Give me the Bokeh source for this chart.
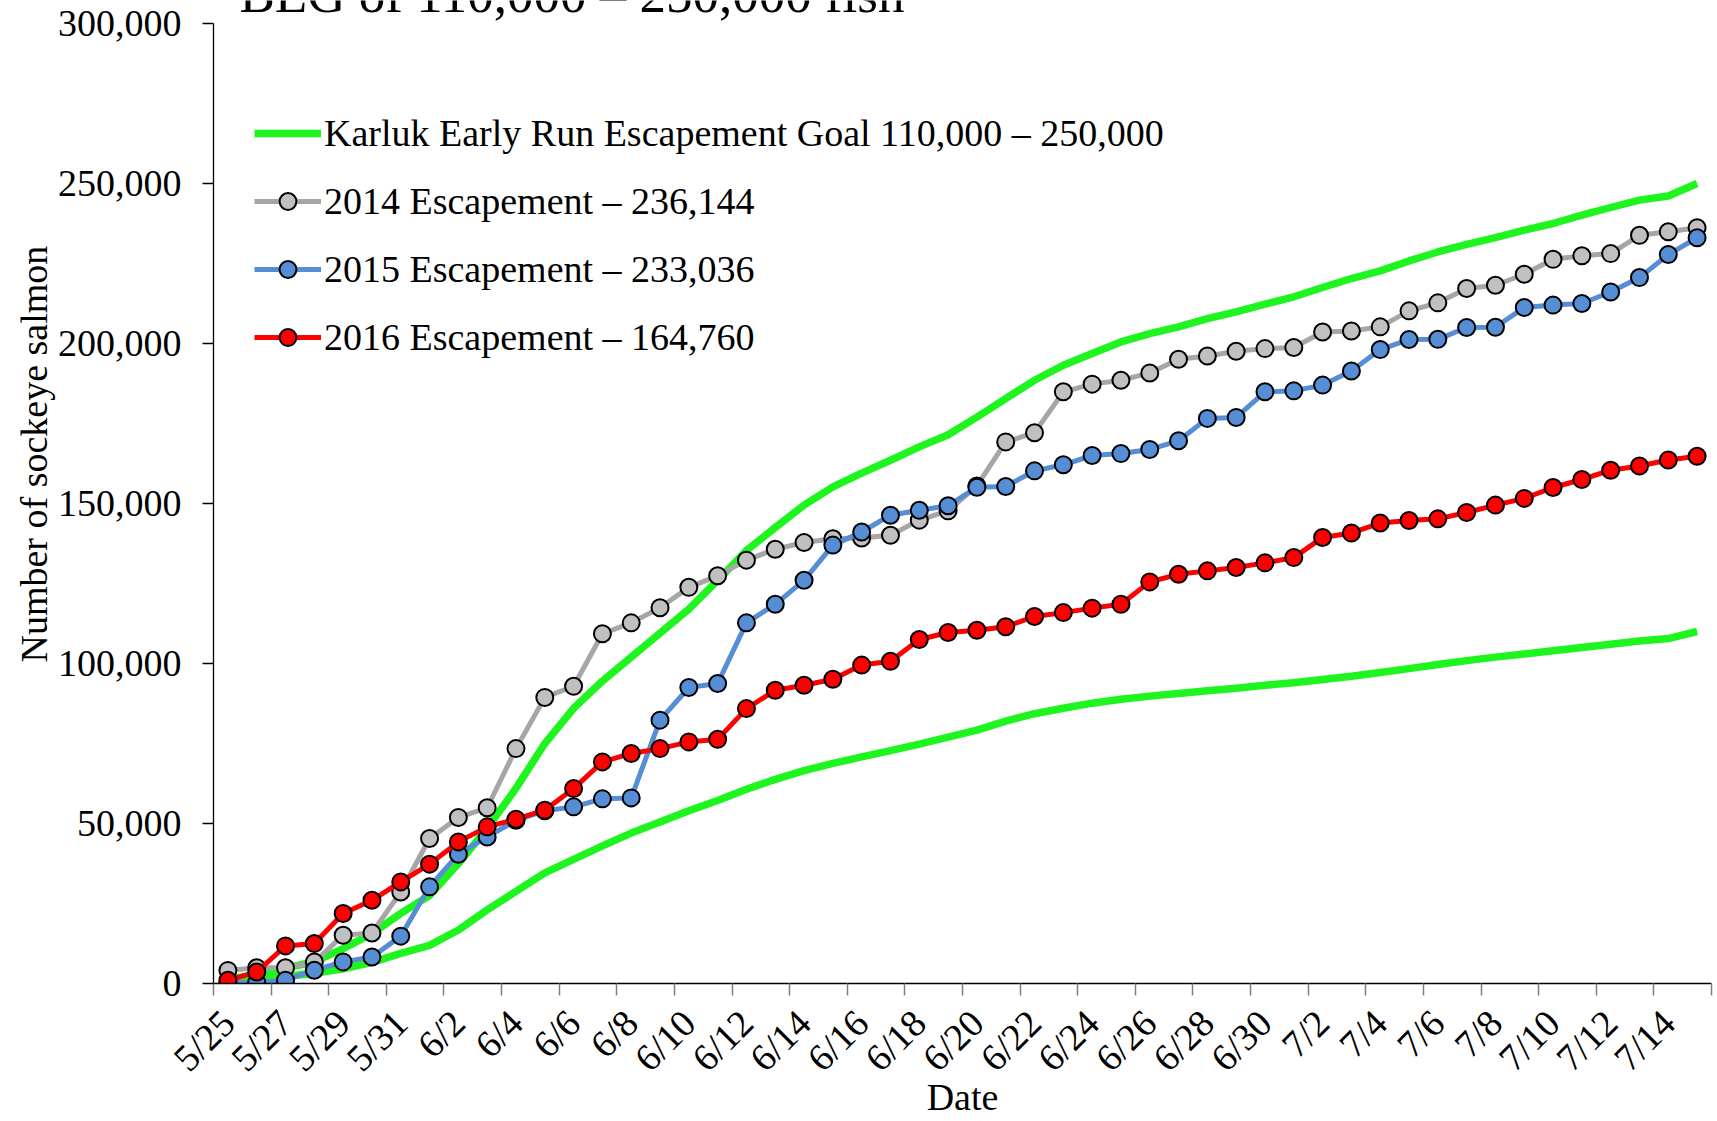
import math
from bokeh.plotting import figure
from bokeh.models import (Range1d, FixedTicker, NumeralTickFormatter, Legend,
                          LegendItem, Label, Title)
from bokeh.embed import file_html
from bokeh.resources import INLINE

# ---------------- data ----------------
dates = ["5/25", "5/26", "5/27", "5/28", "5/29", "5/30", "5/31",
         "6/1", "6/2", "6/3", "6/4", "6/5", "6/6", "6/7", "6/8", "6/9", "6/10",
         "6/11", "6/12", "6/13", "6/14", "6/15", "6/16", "6/17", "6/18", "6/19", "6/20",
         "6/21", "6/22", "6/23", "6/24", "6/25", "6/26", "6/27", "6/28", "6/29", "6/30",
         "7/1", "7/2", "7/3", "7/4", "7/5", "7/6", "7/7", "7/8", "7/9", "7/10",
         "7/11", "7/12", "7/13", "7/14", "7/15"]

goal_upper = [1500, 2600, 4800, 6800, 10900, 15600, 21900, 27500, 37500, 48500,
              61000, 75000, 86000, 94500, 102000, 109500, 117000, 126000, 135300, 142500,
              149500, 155200, 159500, 163500, 167700, 171500, 177000, 182800, 188500, 193200,
              196900, 200500, 203100, 205200, 207800, 209900, 212300, 214600, 217500, 220300,
              222700, 225800, 228600, 231000, 233100, 235400, 237500, 240100, 242500, 244800,
              246100, 250000]

goal_lower = [500, 1200, 2200, 3200, 4600, 6600, 9400, 11900, 16700, 23000,
              28800, 34600, 38800, 43000, 47000, 50500, 54000, 57200, 60700, 63800,
              66500, 68800, 70800, 72800, 74800, 77000, 79200, 82000, 84300, 86000,
              87600, 88800, 89800, 90600, 91500, 92300, 93200, 94000, 95000, 96000,
              97200, 98400, 99700, 100900, 102000, 103000, 104000, 105000, 106000, 107000,
              107800, 110000]

esc_2014 = [4100, 4900, 4900, 6700, 15100, 15800, 28600, 45300, 51900, 54900,
            73400, 89400, 92900, 109300, 112700, 117400, 123800, 127400, 132300, 135700,
            137800, 139000, 139200, 140100, 144800, 147700, 155500, 169250, 172100, 184900,
            187300, 188500, 190800, 195100, 196100, 197600, 198400, 198750, 203600, 203900,
            205200, 210200, 212700, 217200, 218200, 221650, 226300, 227400, 228100, 233800,
            234900, 236144]

esc_2015 = [200, 300, 1050, 4150, 6750, 8300, 14800, 30200, 40400, 45800,
            51000, 54000, 55200, 57700, 58000, 82300, 92500, 93750, 112700, 118500,
            126000, 137000, 141100, 146350, 147900, 149300, 155100, 155300, 160200, 162100,
            165000, 165600, 166900, 169600, 176600, 176900, 184900, 185200, 187000, 191400,
            198100, 201250, 201300, 205000, 205100, 211250, 212000, 212500, 216100, 220600,
            227800, 233036]

esc_2016 = [1000, 3600, 11750, 12500, 21900, 26000, 31750, 37300, 44250, 48950,
            51350, 54150, 60900, 69250, 71900, 73400, 75500, 76300, 85900, 91650,
            93200, 95100, 99500, 100700, 107500, 109700, 110400, 111500, 114700, 115900,
            117300, 118500, 125500, 127900, 128950, 130000, 131450, 133100, 139400, 140800,
            143900, 144700, 145200, 147200, 149500, 151600, 155000, 157500, 160400, 161700,
            163600, 164760]

y_ticks = [0, 50000, 100000, 150000, 200000, 250000, 300000]
y_max = 300000

title_text = "BEG of 110,000 \u2013 250,000 fish"
y_title = "Number of sockeye salmon"
x_title = "Date"
legend_labels = ["Karluk Early Run Escapement Goal 110,000 \u2013 250,000",
                 "2014 Escapement \u2013 236,144",
                 "2015 Escapement \u2013 233,036",
                 "2016 Escapement \u2013 164,760"]

# ---------------- style ----------------
FONT = "Liberation Serif"
GREEN = "#1EF51E"
GRAY_LINE = "#A6A6A6"
GRAY_FILL = "#C0C0C0"
BLUE = "#558ED5"
RED = "#FF0000"

x = list(range(len(dates)))

# the plot frame reaches the top of the canvas (so the cut-off title can sit there);
# the axis itself is bounded to 0..300,000, whose top lies 23px below the canvas edge
FRAME_H = 983
TOP_PAD = 23
y_top = y_max * FRAME_H / (FRAME_H - TOP_PAD)

p = figure(width=1717, height=1121, output_backend="svg", toolbar_location=None,
           x_range=Range1d(-0.5, len(dates) - 0.5), y_range=Range1d(0, y_top),
           min_border_left=213, min_border_right=6, min_border_top=0,
           min_border_bottom=138)
p.outline_line_color = None
p.xgrid.visible = False
p.ygrid.visible = False
p.background_fill_color = "white"
p.border_fill_color = "white"

# x axis: labels every other day, tick marks between categories
xa = p.xaxis[0]
xa.ticker = FixedTicker(ticks=list(range(0, len(dates), 2)),
                        minor_ticks=[i - 0.5 for i in range(0, len(dates) + 1, 2)])
xa.major_label_overrides = {i: dates[i] for i in range(0, len(dates), 2)}
xa.major_label_orientation = math.pi / 4
xa.major_tick_out = 0
xa.major_tick_in = 0
xa.minor_tick_out = 12
xa.minor_tick_in = 0
xa.minor_tick_line_color = "#7F7F7F"
xa.minor_tick_line_width = 1.5
xa.axis_line_color = "black"
xa.axis_line_width = 1.3
xa.major_label_text_font = FONT
xa.major_label_text_font_size = "38px"
xa.major_label_text_color = "black"
xa.major_label_standoff = 21
xa.axis_label = x_title
xa.axis_label_text_font = FONT
xa.axis_label_text_font_size = "38px"
xa.axis_label_text_font_style = "normal"
xa.axis_label_text_color = "black"
xa.axis_label_standoff = -21

ya = p.yaxis[0]
ya.ticker = FixedTicker(ticks=y_ticks)
ya.bounds = (0, y_max)
ya.formatter = NumeralTickFormatter(format="0,0")
ya.major_tick_out = 11
ya.major_tick_in = 0
ya.minor_tick_out = 0
ya.minor_tick_in = 0
ya.major_tick_line_color = "black"
ya.major_tick_line_width = 1.3
ya.axis_line_color = "black"
ya.axis_line_width = 1.3
ya.major_label_text_font = FONT
ya.major_label_text_font_size = "38px"
ya.major_label_text_color = "black"
ya.major_label_standoff = 21

p.add_layout(Title(text=y_title, align="left", offset=321, standoff=0,
                   text_font=FONT, text_font_size="38px", text_font_style="normal",
                   text_color="black"), "left")

# ---------------- glyphs ----------------
g_up = p.line(x, goal_upper, line_color=GREEN, line_width=7.5, line_join="round")
g_lo = p.line(x, goal_lower, line_color=GREEN, line_width=7.5, line_join="round")

l14 = p.line(x, esc_2014, line_color=GRAY_LINE, line_width=5)
s14 = p.scatter(x, esc_2014, size=17, fill_color=GRAY_FILL, line_color="black", line_width=2)
l15 = p.line(x, esc_2015, line_color=BLUE, line_width=5)
s15 = p.scatter(x, esc_2015, size=17, fill_color=BLUE, line_color="black", line_width=2)
l16 = p.line(x, esc_2016, line_color=RED, line_width=5)
s16 = p.scatter(x, esc_2016, size=17, fill_color=RED, line_color="black", line_width=2)

legend = Legend(items=[LegendItem(label=legend_labels[0], renderers=[g_up]),
                       LegendItem(label=legend_labels[1], renderers=[l14, s14]),
                       LegendItem(label=legend_labels[2], renderers=[l15, s15]),
                       LegendItem(label=legend_labels[3], renderers=[l16, s16])],
                location=(41, 624), orientation="vertical",
                label_text_font=FONT, label_text_font_size="38px", label_text_color="black",
                glyph_width=67, glyph_height=42, label_height=42, spacing=24,
                padding=0, margin=0, label_standoff=3,
                border_line_color=None, background_fill_alpha=0)
p.add_layout(legend)

# chart title (cut off at the top, as in the original)
p.add_layout(Label(x=26, y=990, x_units="screen", y_units="screen", text=title_text,
                   text_font=FONT, text_font_size="53px", text_color="black",
                   text_baseline="alphabetic", text_align="left"))

open("out.html", "w").write(file_html(p, INLINE))
